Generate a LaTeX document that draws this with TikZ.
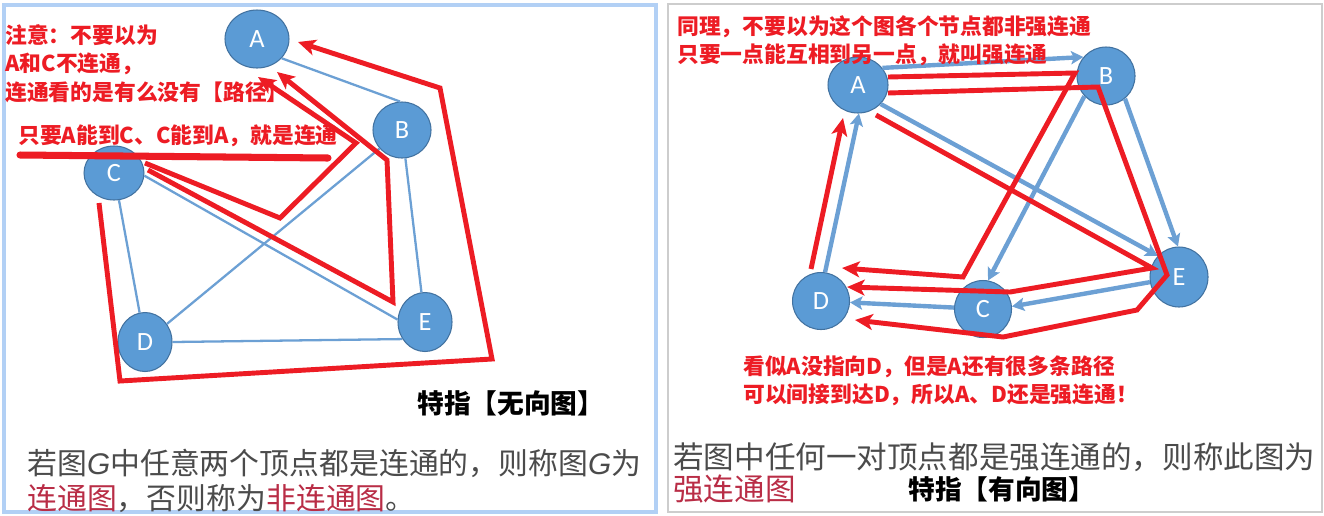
\documentclass[tikz,border=0pt]{standalone}
\usepackage{fontspec}
\usepackage{xcolor}
\usepackage{tikz}
\usetikzlibrary{arrows.meta,positioning,shapes.geometric}
\newfontfamily\cjk{Noto Sans CJK SC}
\newfontfamily\lettfont{Carlito}
\newfontfamily\latinit{Liberation Sans}
\definecolor{mkred}{RGB}{237,28,36}
\definecolor{vxblue}{RGB}{91,155,213}
\definecolor{vxedge}{RGB}{66,114,160}
\definecolor{lnblue}{RGB}{108,160,212}
\definecolor{txgray}{RGB}{75,75,75}
\definecolor{txred}{RGB}{185,45,70}
\definecolor{pnblue}{RGB}{178,208,245}
\definecolor{pngray}{RGB}{205,205,205}

\begin{document}
\begin{tikzpicture}[
  x=0.02cm, y=-0.02cm,
  vtx/.style={ellipse, draw=vxedge, line width=0.6pt, fill=vxblue, text=white, inner sep=0pt, font=\lettfont\fontsize{15}{15}\selectfont},
  uedge/.style={draw=lnblue, line width=1.3pt},
  dedge/.style={draw=lnblue, line width=2.5pt, -{Stealth[length=7pt,width=7.5pt,inset=1.5pt]}},
  redln/.style={draw=mkred, line width=2.8pt},
  redarr/.style={redln, -{Stealth[length=10pt,width=9pt,inset=2.5pt]}},
  note/.style={text=mkred, font=\cjk\bfseries\fontsize{12.4}{16.2}\selectfont, align=left, inner sep=0pt},
  kind/.style={font=\cjk\bfseries\fontsize{15.2}{17}\selectfont, inner sep=0pt, anchor=west},
  desc/.style={text=txgray, align=left, inner sep=0pt, anchor=north west}
]
\useasboundingbox[fill=white] (0,0) rectangle (1324,515);
\draw[pnblue, line width=2.2pt] (4,5) rectangle (656,512);
\draw[pngray, line width=1.6pt] (668,4) rectangle (1322,512);

% undirected graph
\node[vtx, minimum width=1.28cm, minimum height=1.16cm] (ua) at (257,39) {A};
\node[vtx, minimum width=1.16cm, minimum height=1.12cm] (ub) at (402,130) {B};
\node[vtx, minimum width=1.2cm, minimum height=1.08cm] (uc) at (114,173) {C};
\node[vtx, minimum width=1.08cm, minimum height=1.18cm] (ud) at (145,342) {D};
\node[vtx, minimum width=1.08cm, minimum height=1.18cm] (ue) at (425,322) {E};

\draw[uedge] (ua.-38) -- (ub.94);
\draw[uedge] (ub) -- (ud);
\draw[uedge] (ub) -- (ue);
\draw[uedge] (uc) -- (ud);
\draw[uedge] (uc.-5) -- (ue.175);
\draw[uedge] (ud.0) -- (ue.217);

% red marks, left
\coordinate (fs) at (99,203);
\coordinate (f1) at (120,381);
\coordinate (f2) at (492,359);
\coordinate (f3) at (440,88);
\coordinate (fe) at (298,42);
\coordinate (vs) at (145,163);
\coordinate (v1) at (280,218);
\coordinate (v2) at (356,143);
\coordinate (ve) at (258,77);
\coordinate (ws) at (148,170);
\coordinate (w1) at (393,302);
\coordinate (w2) at (387,160);
\coordinate (we) at (277,72);
\coordinate (ul1) at (20,155);
\coordinate (ul2) at (328,158);

\draw[redarr] (fs) -- (f1) -- (f2) -- (f3) -- (fe);
\draw[redarr] (vs) -- (v1) -- (v2) -- (ve);
\draw[redarr] (ws) -- (w1) -- (w2) -- (we);
\draw[redln, line width=4pt, line cap=round] (ul1) -- (ul2);

\node[note, anchor=north west] (warn) at (5,24) {注意：不要以为\\A和C不连通，\\连通看的是有么没有【路径】};
\node[note, anchor=west] (rule) at (18,136) {只要A能到C、C能到A，就是连通};
\node[kind] (utag) at (417,403) {特指【无向图】};
\node[desc, font=\cjk\fontsize{17}{20}\selectfont] (udef) at (27,449) {若图{\latinit\itshape G}中任意两个顶点都是连通的，则称图{\latinit\itshape G}为\\\textcolor{txred}{连通图}，否则称为\textcolor{txred}{非连通图}。};

% directed graph
\node[vtx, minimum width=1.2cm, minimum height=1.12cm] (da) at (858,85) {A};
\node[vtx, minimum size=1.16cm] (db) at (1106,76) {B};
\node[vtx, minimum size=1.14cm] (dc) at (983,309) {C};
\node[vtx, minimum size=1.14cm] (dd) at (821,301) {D};
\node[vtx, minimum width=1.16cm, minimum height=1.2cm] (de) at (1179,277) {E};

\draw[dedge] (da.35) -- (db.140);
\draw[dedge] (db.-50) -- (de.92);
\draw[dedge] (db.-137) -- (dc.80);
\draw[dedge] (da.-40) -- (de.135);
\draw[dedge] (de.190) -- (dc.5);
\draw[dedge] (dc) -- (dd);
\draw[dedge] (dd.82) -- (da.-88);

% red marks, right
\coordinate (s1) at (811,269);
\coordinate (t1) at (843,118);
\coordinate (s2) at (888,77);
\coordinate (m21) at (1075,73);
\coordinate (m22) at (963,277);
\coordinate (t2) at (842,268);
\coordinate (s3) at (888,93);
\coordinate (m31) at (1098,87);
\coordinate (m32) at (1167,275);
\coordinate (m33) at (1137,310);
\coordinate (m34) at (1003,337);
\coordinate (t3) at (855,320);
\coordinate (s4) at (876,115);
\coordinate (m41) at (1152,268);
\coordinate (m42) at (1010,292);
\coordinate (t4) at (847,287);

\draw[redarr] (s1) -- (t1);
\draw[redarr] (s2) -- (m21) -- (m22) -- (t2);
\draw[redarr] (s3) -- (m31) -- (m32) -- (m33) -- (m34) -- (t3);
\draw[redarr] (s4) -- (m41) -- (m42) -- (t4);

\node[note, anchor=north west] (same) at (677,15) {同理，不要以为这个图各个节点都非强连通\\只要一点能互相到另一点，就叫强连通};
\node[note, anchor=north west] (seem) at (743,355) {看似A没指向D，但是A还有很多条路径\\可以间接到达D，所以A、D还是强连通！};
\node[desc, font=\cjk\fontsize{17.4}{18.4}\selectfont] (ddef) at (673,442) {若图中任何一对顶点都是强连通的，则称此图为\\\textcolor{txred}{强连通图}};
\node[kind] (dtag) at (908,489) {特指【有向图】};
\end{tikzpicture}
\end{document}
